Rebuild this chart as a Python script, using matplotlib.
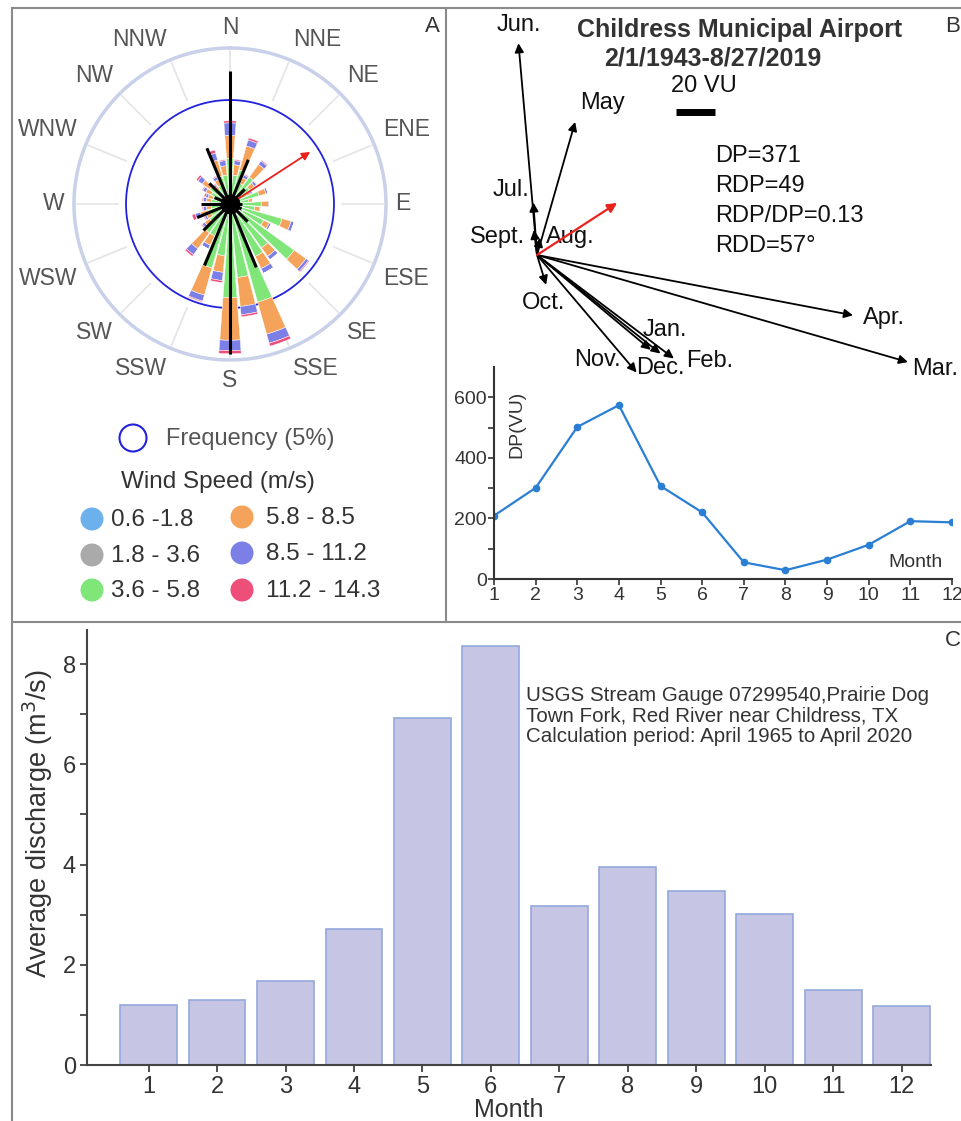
import numpy as np
import matplotlib
matplotlib.use("Agg")
import matplotlib.pyplot as plt
from matplotlib.patches import Circle

plt.rcParams['font.family'] = ['Liberation Sans', 'DejaVu Sans']

W, H = 961, 1121

# ---- panel A: wind rose (frequency %, 10 degree bins starting at N) ----
rose_dirs = list(range(0, 360, 10))
f_06_18 = [0.1, 0.1, 0.1, 0.1, 0.1, 0.1, 0.1, 0.1, 0.1, 0.1, 0.1, 0.1,
           0.1, 0.1, 0.1, 0.1, 0.1, 0.1, 0.1, 0.1, 0.1, 0.1, 0.1, 0.1,
           0.1, 0.1, 0.1, 0.1, 0.1, 0.1, 0.1, 0.1, 0.1, 0.1, 0.1, 0.1]
f_18_36 = [0.3, 0.3, 0.3, 0.3, 0.3, 0.3, 0.3, 0.35, 0.3, 0.4, 0.5, 0.4,
           0.6, 0.4, 0.5, 0.5, 0.4, 0.4, 0.3, 0.3, 0.3, 0.3, 0.3, 0.3,
           0.3, 0.3, 0.3, 0.3, 0.3, 0.3, 0.3, 0.3, 0.3, 0.3, 0.3, 0.3]
f_36_58 = [1.8, 1.0, 1.3, 0.7, 1.2, 0.75, 0.5, 1.0, 0.5, 1.0, 0.6, 2.1,
           1.1, 3.3, 2.0, 2.2, 4.4, 3.05, 4.1, 2.1, 2.8, 1.3, 1.3, 0.8,
           0.6, 0.7, 0.5, 0.35, 0.5, 0.45, 0.6, 0.8, 0.45, 0.6, 1.0, 1.0]
f_58_85 = [1.1, 0.5, 1.2, 0.3, 0.75, 0.3, 0.2, 0.35, 0.2, 0.35, 0.25, 0.45,
           0.3, 0.7, 0.5, 0.65, 1.6, 1.4, 2.05, 0.8, 1.35, 0.5, 0.95, 0.3,
           0.25, 0.4, 0.25, 0.15, 0.25, 0.25, 0.3, 0.45, 0.2, 0.3, 0.8, 0.45]
f_85_112 = [0.6, 0.2, 0.3, 0.15, 0.2, 0.12, 0.1, 0.1, 0.0, 0.05, 0.05, 0.15,
            0.1, 0.15, 0.2, 0.25, 0.45, 0.4, 0.5, 0.4, 0.3, 0.2, 0.35, 0.15,
            0.1, 0.25, 0.15, 0.1, 0.15, 0.12, 0.15, 0.25, 0.1, 0.15, 0.35, 0.25]
f_112_143 = [0.1, 0.05, 0.1, 0.05, 0.05, 0.03, 0.0, 0.0, 0.0, 0.0, 0.0, 0.0,
             0.0, 0.05, 0.0, 0.0, 0.15, 0.1, 0.15, 0.1, 0.05, 0.0, 0.1, 0.05,
             0.05, 0.15, 0.05, 0.0, 0.05, 0.08, 0.05, 0.1, 0.05, 0.05, 0.15, 0.05]
speed_labels = ["0.6 -1.8", "1.8 - 3.6", "3.6 - 5.8", "5.8 - 8.5", "8.5 - 11.2", "11.2 - 14.3"]
speed_colors = ["#6cb0ec", "#aaaaaa", "#80e67a", "#f5a35a", "#7c80e6", "#ee4f7a"]

# sand drift potential by 16 compass directions (black lines, same % scale)
compass = ["N", "NNE", "NE", "ENE", "E", "ESE", "SE", "SSE",
           "S", "SSW", "SW", "WSW", "W", "WNW", "NW", "NNW"]
drift_len = [6.4, 2.3, 1.0, 0.5, 0.6, 0.6, 1.2, 3.3,
             7.2, 3.2, 1.8, 1.7, 1.4, 0.8, 1.4, 2.9]
rdd_deg = 57
rdd_len = 4.6

# ---- panel B: monthly drift vectors (VU) and DP ----
vec_months = ["Jan.", "Feb.", "Mar.", "Apr.", "May", "Jun.", "Jul.", "Aug.", "Sept.", "Oct.", "Nov.", "Dec."]
vec_mag = [81, 88, 198, 165, 71, 109, 27, 9, 13, 16, 79, 76]
vec_dir = [128.6, 127.1, 106.1, 100.8, 16, 355, 356, 10, 353, 163, 139.7, 129.8]
rdp = 49
months = list(range(1, 13))
dp_month = [209, 301, 502, 574, 307, 220, 55, 29, 64, 113, 191, 187]

# ---- panel C: discharge ----
discharge = [1.2, 1.3, 1.68, 2.72, 6.93, 8.37, 3.17, 3.95, 3.47, 3.01, 1.5, 1.18]


def box(l, t, r, b):
    return [l / W, 1 - b / H, (r - l) / W, (b - t) / H]


fig = plt.figure(figsize=(W / 100, H / 100), dpi=100)

# overlay in pixel coordinates for frames, legends and labels
ov = fig.add_axes([0, 0, 1, 1])
ov.set_xlim(0, W)
ov.set_ylim(H, 0)
ov.axis("off")
fc = "#8a8a8a"
ov.plot([12, W], [8, 8], color=fc, lw=1.5)
ov.plot([12, 12], [8, H], color=fc, lw=1.5)
ov.plot([446, 446], [8, 622], color=fc, lw=1.5)
ov.plot([12, W], [622, 622], color=fc, lw=1.5)
ov.text(432, 27, "A", fontsize=16, color="#333333", ha="center", va="center")
ov.text(953, 27, "B", fontsize=16, color="#333333", ha="center", va="center")
ov.text(953, 640, "C", fontsize=16, color="#333333", ha="center", va="center")

# ---------------- panel A ----------------
pa = fig.add_axes(box(74, 48, 386, 360), projection="polar")
pa.set_theta_zero_location("N")
pa.set_theta_direction(-1)
pa.set_ylim(0, 7.5)
pa.axis("off")

th_full = np.linspace(0, 2 * np.pi, 400)
pa.plot(th_full, np.full_like(th_full, 7.5), color="#c8d0ea", lw=2.5, clip_on=False)
pa.plot(th_full, np.full_like(th_full, 5.0), color="#2222dd", lw=1.3)
th16 = np.radians(np.arange(16) * 22.5)
for t in th16:
    pa.plot([t, t], [5.4, 7.4], color="#e4e4e4", lw=1.2)

theta = np.radians(rose_dirs)
bottom = np.zeros(len(rose_dirs))
for vals, col in zip([f_06_18, f_18_36, f_36_58, f_58_85, f_85_112, f_112_143], speed_colors):
    pa.bar(theta, vals, width=np.radians(8.6), bottom=bottom, color=col,
           edgecolor="white", linewidth=0.35, zorder=2)
    bottom += np.array(vals)

pa.vlines(th16, 0, drift_len, colors="black", lw=2.2, zorder=3)
pa.annotate("", xy=(np.radians(rdd_deg), rdd_len), xytext=(0, 0),
            arrowprops=dict(arrowstyle="-|>", color="#e8231e", lw=1.3,
                            mutation_scale=12, shrinkA=0, shrinkB=0), zorder=4)
pa.plot([0], [0], "o", color="black", ms=13, zorder=5)
for t, name in zip(th16, compass):
    sx, cy = np.sin(t), np.cos(t)
    ha = "left" if sx > 0.2 else ("right" if sx < -0.2 else "center")
    va = "bottom" if cy > 0.2 else ("top" if cy < -0.2 else "center")
    pa.text(t, 7.95, name, fontsize=16.5, color="#555555", ha=ha, va=va,
            clip_on=False)

# legend of panel A
ov.add_patch(Circle((133, 438), 13.5, fill=False, ec="#2222dd", lw=1.5))
ov.text(166, 439, "Frequency (5%)", fontsize=17, color="#555555", va="center")
ov.text(121, 482, "Wind Speed (m/s)", fontsize=17.5, color="#333333", va="center")
leg_xy = [(92, 519), (92, 555), (92, 590), (242, 517), (242, 553), (242, 590)]
leg_tx = [111, 111, 111, 266, 266, 266]
for (cx, cy), tx, lab, col in zip(leg_xy, leg_tx, speed_labels, speed_colors):
    ov.add_patch(Circle((cx, cy), 11.5, color=col, ec="none"))
    ov.text(tx, cy + 1, lab, fontsize=17.5, color="#333333", va="center")

# ---------------- panel B vectors ----------------
s = 1.95  # px per VU
ox, oy = 537, 255
vb = fig.add_axes(box(460, 12, 960, 380))
vb.set_xlim(-(ox - 460) / s, (960 - ox) / s)
vb.set_ylim(-(380 - oy) / s, (oy - 12) / s)
vb.axis("off")
for m, d in zip(vec_mag, vec_dir):
    dx, dy = m * np.sin(np.radians(d)), m * np.cos(np.radians(d))
    vb.annotate("", xy=(dx, dy), xytext=(0, 0),
                arrowprops=dict(arrowstyle="-|>", color="black", lw=1.3,
                                mutation_scale=13, shrinkA=0, shrinkB=0))
vb.annotate("", xy=(rdp * np.sin(np.radians(rdd_deg)), rdp * np.cos(np.radians(rdd_deg))),
            xytext=(0, 0), arrowprops=dict(arrowstyle="-|>", color="#e8231e", lw=1.6,
                                           mutation_scale=14, shrinkA=0, shrinkB=0))

lab_xy = [(665, 330), (710, 361), (935, 369), (884, 318), (603, 103), (519, 25),
          (511, 190), (570, 237), (497, 237), (544, 303), (597, 360), (660, 368)]
for (lx, ly), name in zip(lab_xy, vec_months):
    ov.text(lx, ly, name, fontsize=17, color="#111111", ha="center", va="center")

ov.text(740, 30, "Childress Municipal Airport", fontsize=18, fontweight="bold",
        color="#333333", ha="center", va="center")
ov.text(713, 58, "2/1/1943-8/27/2019", fontsize=18, fontweight="bold",
        color="#333333", ha="center", va="center")
ov.text(704, 86, "20 VU", fontsize=17, color="#111111", ha="center", va="center")
ov.plot([676, 715], [112, 112], color="black", lw=5, solid_capstyle="butt")
stats = ["DP=371", "RDP=49", "RDP/DP=0.13", "RDD=57°"]
for i, txt in enumerate(stats):
    ov.text(715, 156 + 30 * i, txt, fontsize=17, color="#111111", va="center")

# ---------------- panel B DP line ----------------
lb = fig.add_axes(box(494, 367, 952, 579))
lb.patch.set_alpha(0)
lb.plot(months, dp_month, color="#2a7fd4", lw=1.6, marker="o", ms=4.5)
lb.set_xlim(1, 12)
lb.set_ylim(0, 700)
lb.set_xticks(months)
lb.set_yticks(range(0, 700, 100))
lb.set_yticklabels(["0", "", "200", "", "400", "", "600"])
for sp in ["top", "right"]:
    lb.spines[sp].set_visible(False)
for sp in ["left", "bottom"]:
    lb.spines[sp].set_color("#333333")
    lb.spines[sp].set_linewidth(1.5)
lb.tick_params(labelsize=14, colors="#333333", length=4, width=1.2)
lb.tick_params(axis="x", pad=2)
lb.tick_params(axis="y", pad=1)
lb.text(0.05, 0.73, "DP(VU)", transform=lb.transAxes, rotation=90, fontsize=14,
        color="#333333", ha="center", va="center")
lb.text(0.98, 0.08, "Month", transform=lb.transAxes, fontsize=14,
        color="#333333", ha="right", va="center")

# ---------------- panel C ----------------
cb = fig.add_axes(box(87, 630, 931, 1065))
cb.patch.set_alpha(0)
cb.bar(months, discharge, width=0.83, color="#c6c6e4", edgecolor="#93a8dc", linewidth=1.2)
cb.set_xlim(0.1, 12.43)
cb.set_ylim(0, 8.68)
cb.set_xticks(months)
cb.set_yticks(range(0, 9))
cb.set_yticklabels(["0", "", "2", "", "4", "", "6", "", "8"])
for sp in ["top", "right"]:
    cb.spines[sp].set_visible(False)
for sp in ["left", "bottom"]:
    cb.spines[sp].set_color("#444444")
    cb.spines[sp].set_linewidth(1.5)
cb.tick_params(labelsize=17, colors="#333333", length=5, width=1.2, pad=3)
cb.set_xlabel("Month", fontsize=18, color="#333333", labelpad=0)
cb.set_ylabel("Average discharge (m$^3$/s)", fontsize=19.5, color="#333333")
cb.yaxis.set_label_coords(-0.038, 0.556)
ov.text(526, 716, "USGS Stream Gauge 07299540,Prairie Dog\nTown Fork, Red River near Childress, TX\n"
        "Calculation period: April 1965 to April 2020", fontsize=14.8, color="#333333",
        va="center", ha="left", linespacing=1.1)

fig.savefig("out.png", dpi=100)
